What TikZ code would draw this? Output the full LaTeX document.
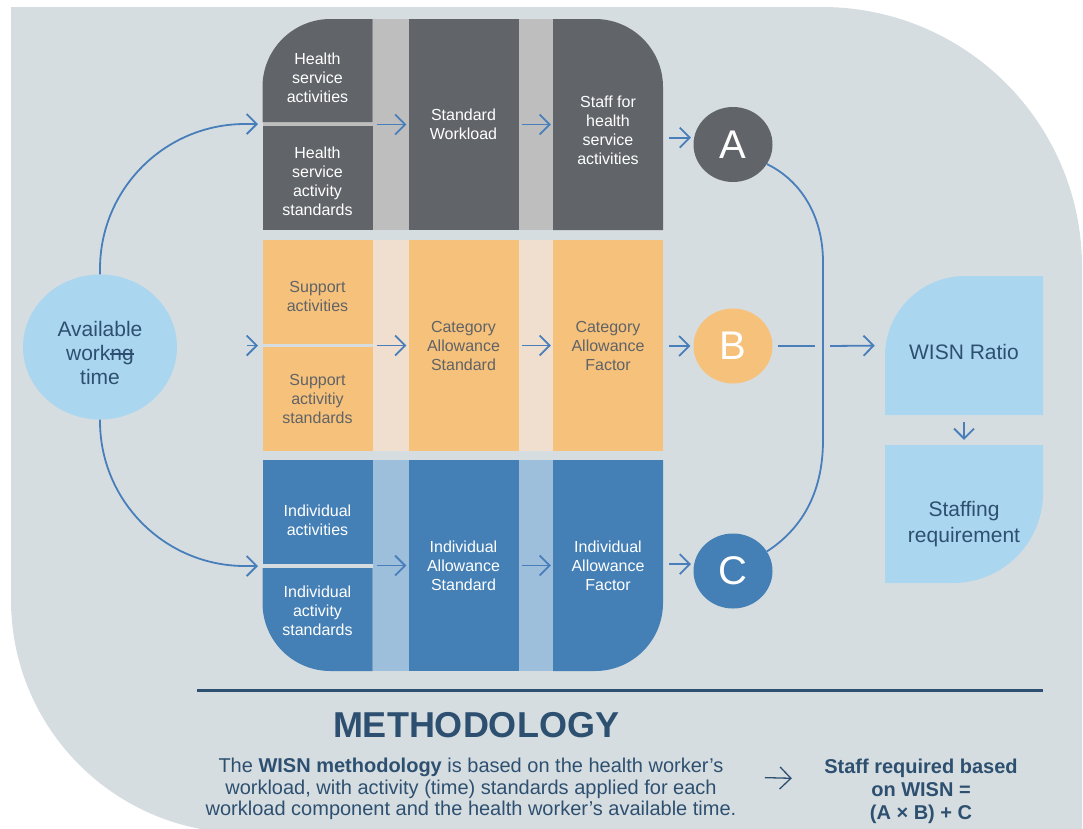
\documentclass[tikz,border=0pt]{standalone}
\usepackage{fontspec}
\setmainfont{Liberation Sans}
\usepackage{tikz}
\usetikzlibrary{arrows.meta,shapes.geometric}
\definecolor{panelBg}{RGB}{214,221,225}
\definecolor{greyMain}{RGB}{97,100,104}
\definecolor{greySep}{RGB}{190,190,190}
\definecolor{orangeMain}{RGB}{246,193,122}
\definecolor{orangeSep}{RGB}{240,223,206}
\definecolor{blueMain}{RGB}{68,128,182}
\definecolor{blueSep}{RGB}{157,191,220}
\definecolor{skyBlue}{RGB}{171,214,240}
\definecolor{arrowBlue}{RGB}{72,127,186}
\definecolor{navyText}{RGB}{46,80,112}
\definecolor{greyText}{RGB}{96,99,103}
% struck-through letters
\newcommand\crossout[1]{\setbox0\hbox{#1}\rlap{\rule[0.27em]{\wd0}{1.6pt}}#1}
% taller first line, pushes the text down
\newcommand\topstrut[1]{\rule{0pt}{#1}}

\begin{document}
\begin{tikzpicture}[x=1pt, y=-1pt,
		cell/.style={minimum width=110pt, inner sep=0pt, align=center, font=\fontsize{16}{19}\selectfont},
		letter/.style={ellipse, minimum width=79pt, minimum height=75pt, inner sep=0pt, text=white, font=\fontsize{40}{40}\selectfont},
		sky/.style={minimum width=158pt, inner sep=0pt, align=center, text=navyText, font=\fontsize{21}{26}\selectfont},
		flow/.style={-{Straight Barb[length=10pt,width=20pt]}, line width=1.8pt, draw=arrowBlue},
		link/.style={line width=1.8pt, draw=arrowBlue},
		navflow/.style={-{Straight Barb[length=11pt,width=22pt]}, line width=1.3pt, draw=navyText}
		]
		\useasboundingbox (0,0) rectangle (1083,828);
		% panel behind everything
		\fill[panelBg] (11,7) -- (822,7) arc[start angle=270, end angle=360, radius=260]
			-- (1082,833) -- (244,833) arc[start angle=90, end angle=180, radius=233] -- cycle;
		
		% health service row
		\fill[greySep] (372.5,19) rectangle (408.5,230);
		\fill[greySep] (518.5,19) rectangle (553,230);
		\fill[greySep] (262.5,122) rectangle (372.5,126);
		\fill[greyMain] (262.5,122) -- (262.5,87) arc[start angle=180, end angle=270, radius=68]
			-- (372.5,19) -- (372.5,122) -- cycle;
		\fill[greyMain] (262.5,126) rectangle (372.5,230);
		\fill[greyMain] (553,19) -- (595,19) arc[start angle=270, end angle=360, radius=68]
			-- (663,230) -- (553,230) -- cycle;
		\node[cell, text=white, minimum height=103pt] (hsAct) at (317.5,77.5) {Health\\service\\activities};
		\node[cell, text=white, minimum height=104pt] (hsStd) at (317.5,181) {Health\\service\\activity\\standards};
		\node[cell, fill=greyMain, text=white, minimum height=211pt] (stdWork) at (463.5,124.5) {Standard\\Workload};
		\node[cell, text=white, minimum height=211pt] (staffHs) at (608,130.5) {Staff for\\health\\service\\activities};
		
		% support row
		\fill[orangeSep] (372.5,240) rectangle (408.5,451);
		\fill[orangeSep] (518.5,240) rectangle (553,451);
		\fill[orangeMain] (262.5,240) rectangle (372.5,344);
		\node[cell, text=greyText, minimum height=104pt] (supAct) at (317.5,296) {Support\\activities};
		\node[cell, fill=orangeMain, text=greyText, minimum height=104pt] (supStd) at (317.5,399) {Support\\activitiy\\standards};
		\node[cell, fill=orangeMain, text=greyText, minimum height=211pt] (catStd) at (463.5,345.5) {Category\\Allowance\\Standard};
		\node[cell, fill=orangeMain, text=greyText, minimum height=211pt] (catFac) at (608,345.5) {Category\\Allowance\\Factor};
		
		% individual row
		\fill[blueSep] (372.5,460) rectangle (408.5,671);
		\fill[blueSep] (518.5,460) rectangle (553,671);
		\fill[blueMain] (262.5,460) rectangle (372.5,564);
		\fill[blueMain] (262.5,568) -- (372.5,568) -- (372.5,671) -- (330.5,671)
			arc[start angle=90, end angle=180, radius=68] -- cycle;
		\fill[blueMain] (553,460) -- (663,460) -- (663,603) arc[start angle=0, end angle=90, radius=68]
			-- (553,671) -- cycle;
		\node[cell, text=white, minimum height=104pt] (indAct) at (317.5,520) {Individual\\activities};
		\node[cell, text=white, minimum height=103pt] (indStd) at (317.5,610.5) {Individual\\activity\\standards};
		\node[cell, fill=blueMain, text=white, minimum height=211pt] (indAllow) at (463.5,565.5) {Individual\\Allowance\\Standard};
		\node[cell, text=white, minimum height=211pt] (indFac) at (608,565.5) {Individual\\Allowance\\Factor};
		
		% results and inputs
		\node[ellipse, fill=skyBlue, minimum width=154pt, minimum height=145pt, inner sep=0pt, align=center,
			text=navyText, font=\fontsize{21}{24}\selectfont] (avail) at (100,347) {\topstrut{27pt}Available\\work\crossout{ng}\\time};
		\node[letter, fill=greyMain] (A) at (733,144.5) {A};
		\node[letter, fill=orangeMain] (B) at (733,346) {B};
		\node[letter, fill=blueMain] (C) at (733,571) {C};
		
		\fill[skyBlue] (885,415) -- (885,356) arc[start angle=180, end angle=270, radius=80]
			-- (1043,276) -- (1043,415) -- cycle;
		\fill[skyBlue] (885,445) -- (1043,445) -- (1043,493) arc[start angle=0, end angle=90, radius=90]
			-- (885,583) -- cycle;
		\node[sky, minimum height=139pt] (wisn) at (964,345.5) {\topstrut{29pt}WISN Ratio};
		\node[sky, minimum height=138pt] (staffReq) at (964,514) {\topstrut{35pt}Staffing\\requirement};
		
		% arrows
		\coordinate (inTop) at (258,124);
		\coordinate (inMid) at (258,345.5);
		\coordinate (inBot) at (258,566);
		\draw[flow, rounded corners=145pt] (avail.north) |- (inTop);
		\draw[flow] (inMid) ++(-11,0) -- (inMid);
		\draw[flow, rounded corners=145pt] (avail.south) |- (inBot);
		
		\draw[flow, shorten <=4pt, shorten >=2pt] (stdWork.west -| hsAct.east) -- (stdWork.west);
		\draw[flow, shorten <=3pt, shorten >=2pt] (stdWork.east) -- (stdWork.east -| staffHs.west);
		\draw[flow, shorten <=6pt, shorten >=3pt] (staffHs.east |- A.170) -- (A.170);
		\draw[flow, shorten <=4pt, shorten >=2pt] (catStd.west -| supAct.east) -- (catStd.west);
		\draw[flow, shorten <=3pt, shorten >=2pt] (catStd.east) -- (catFac.west);
		\draw[flow, shorten <=6pt, shorten >=3pt] (catFac.east |- B.west) -- (B.west);
		\draw[flow, shorten <=4pt, shorten >=2pt] (indAllow.west -| indAct.east) -- (indAllow.west);
		\draw[flow, shorten <=3pt, shorten >=2pt] (indAllow.east) -- (indFac.west);
		\draw[flow, shorten <=6pt, shorten >=3pt] (indFac.east |- C.170) -- (C.170);
		
		\draw[link] (A.-30) .. controls (800,180) and (823,215) .. (823,262) -- (823,440)
			.. controls (823,495) and (800,530) .. (C.30);
		\coordinate (gapL) at (815,346);
		\coordinate (gapR) at (830,346);
		\draw[link, shorten <=5pt] (B.east) -- (gapL);
		\draw[flow, shorten >=10pt] (gapR) -- (wisn.west);
		\draw[flow, shorten <=7pt, shorten >=5pt] (wisn.south) -- (staffReq.north);
		
		% methodology footer
		\draw[navyText, line width=3pt] (197,690) -- (1043,690);
		\node[navyText, font=\bfseries\fontsize{36}{36}\selectfont] (title) at (476,725) {METHODOLOGY};
		\node[navyText, align=center, font=\fontsize{20}{21.5}\selectfont] (para) at (471,789)
			{The \textbf{WISN methodology} is based on the health worker’s\\workload, with activity (time) standards applied for each\\workload component and the health worker’s available time.};
		\node[navyText, align=center, font=\bfseries\fontsize{20}{23}\selectfont] (req) at (921,791)
			{Staff required based\\on WISN =\\(A × B) + C};
		\draw[navflow, shorten <=25pt, shorten >=29pt] ([yshift=12pt]para.east) -- ([yshift=12pt]req.west);
	\end{tikzpicture}
\end{document}
